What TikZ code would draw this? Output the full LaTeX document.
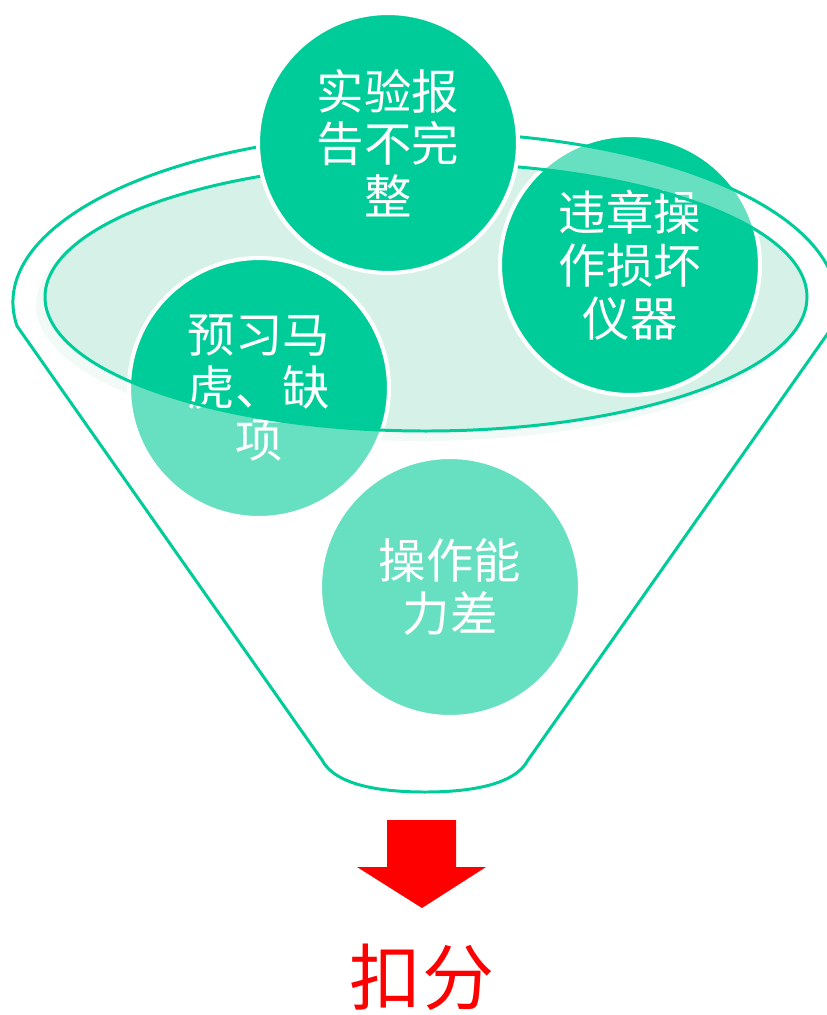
\documentclass[tikz,border=0pt]{standalone}
\usepackage{fontspec}
\newfontfamily\cjk{Noto Sans CJK SC}
\usepackage{tikz}

\definecolor{funnelgreen}{RGB}{0,204,153}
\definecolor{bowlfill}{RGB}{214,242,232}
\definecolor{bowlshade}{RGB}{232,247,241}

\tikzset{
  bubble/.style={circle, fill=funnelgreen, draw=white, line width=2.3pt,
    minimum size=5.2cm, inner sep=0pt, text=white, align=center,
    font=\cjk\fontsize{27pt}{30pt}\selectfont},
  rim/.style={draw=funnelgreen, line width=1.7pt}
}

\begin{document}
\begin{tikzpicture}[x=0.02cm, y=-0.02cm]

  \clip (0,0) rectangle (827,1015);

  % shadow and fill of the bowl opening
  \fill[bowlshade] (419,305) ellipse[x radius=383, y radius=136];
  \fill[bowlfill] (426,297) ellipse[x radius=381, y radius=134];

  % bubbles that sink into the funnel
  \node[bubble] (prep) at (259,388) {预习马\\虎、缺\\项};
  \node[bubble] (damage) at (630,265) {违章操\\作损坏\\仪器};
  \node[bubble] (skill) at (450,587) {操作能\\力差};

  % funnel body seen through, bowl left open
  \fill[white, fill opacity=0.4, even odd rule]
    (322,760) -- (17,326) arc[start angle=172, end angle=368, x radius=412, y radius=170]
    -- (528,760) .. controls (515,785) and (470,792) .. (425,792)
    .. controls (380,792) and (335,785) .. (322,760) -- cycle
    (426,297) ellipse[x radius=381, y radius=134];

  % funnel outline
  \draw[rim] (322,760) -- (17,326) arc[start angle=172, end angle=368, x radius=412, y radius=170]
    -- (528,760) .. controls (515,785) and (470,792) .. (425,792)
    .. controls (380,792) and (335,785) .. (322,760);
  \draw[rim] (426,297) ellipse[x radius=381, y radius=134];

  % bubble on top of the rim
  \node[bubble] (report) at (388,143) {实验报\\告不完\\整};

  % result arrow
  \fill[red] (387,820) -- (456,820) -- (456,867) -- (486,867) -- (422,908)
    -- (357,867) -- (387,867) -- cycle;
  \node[text=red, font=\cjk\fontsize{41pt}{44pt}\selectfont] (penalty) at (422,977) {扣分};

\end{tikzpicture}
\end{document}
